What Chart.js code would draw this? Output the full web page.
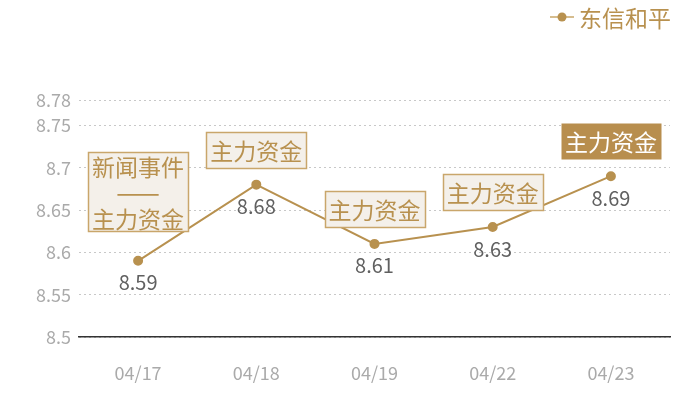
<!DOCTYPE html>
<html>
<head>
<meta charset="utf-8">
<script src="https://cdn.jsdelivr.net/npm/chart.js@4"></script>
<style>
  html, body { margin: 0; padding: 0; background: #fff; }
  #wrap { width: 700px; height: 400px; }
</style>
</head>
<body>
<div id="wrap"><canvas id="canvas"></canvas></div>
<script>
var seriesName = "东信和平";
var dates = ["04/17", "04/18", "04/19", "04/22", "04/23"];
var prices = [8.59, 8.68, 8.61, 8.63, 8.69];
var yTicks = [8.5, 8.55, 8.6, 8.65, 8.7, 8.75, 8.78];
var noteTexts = [["新闻事件", "——", "主力资金"], ["主力资金"], ["主力资金"], ["主力资金"], ["主力资金"]];
var noteFilled = [false, false, false, false, true];

var gold = "#b8914f";
var cjk = "'Noto Sans CJK SC', 'Noto Sans', sans-serif";

var notesPlugin = {
    id: "notes",
    afterDatasetsDraw: function(chart) {
        var ctx = chart.ctx;
        var meta = chart.getDatasetMeta(0);
        ctx.save();
        // value labels under points
        ctx.font = "20px " + cjk;
        ctx.fillStyle = "#606060";
        ctx.textAlign = "center";
        ctx.textBaseline = "middle";
        for (var i = 0; i < meta.data.length; i++) {
            var p = meta.data[i];
            ctx.fillText(prices[i].toFixed(2), p.x, p.y + 22);
        }
        // note boxes above points
        ctx.font = "23px " + cjk;
        for (i = 0; i < meta.data.length; i++) {
            p = meta.data[i];
            var lines = noteTexts[i];
            var w = 100, lh = 26;
            var h = lines.length > 1 ? 79 : 36;
            var gap = lines.length > 1 ? 30 : 17;
            var x0 = Math.round(p.x - w / 2) + 0.5;
            var y0 = Math.round(p.y - gap - h) + 0.5;
            if (noteFilled[i]) {
                ctx.fillStyle = "#b88e4e";
                ctx.fillRect(x0, y0, w, h);
                ctx.fillStyle = "#fff";
            } else {
                ctx.fillStyle = "#f4f0ea";
                ctx.fillRect(x0, y0, w, h);
                ctx.strokeStyle = "#c9a66b";
                ctx.lineWidth = 1.5;
                ctx.strokeRect(x0, y0, w, h);
                ctx.fillStyle = gold;
            }
            var startY = y0 + h / 2 - (lines.length - 1) * lh / 2;
            for (var j = 0; j < lines.length; j++) {
                if (lines[j] === "——") {
                    ctx.save();
                    ctx.font = "26px " + cjk;
                    ctx.fillText(lines[j], p.x, startY + j * lh);
                    ctx.restore();
                } else {
                    ctx.fillText(lines[j], p.x, startY + j * lh + 1);
                }
            }
        }
        // legend
        ctx.strokeStyle = "#d6bd8f";
        ctx.lineWidth = 2;
        ctx.beginPath();
        ctx.moveTo(550, 17);
        ctx.lineTo(574, 17);
        ctx.stroke();
        ctx.fillStyle = gold;
        ctx.beginPath();
        ctx.arc(562, 17, 4.5, 0, Math.PI * 2);
        ctx.fill();
        ctx.font = "23px " + cjk;
        ctx.textAlign = "left";
        ctx.fillText(seriesName, 579, 18);
        ctx.restore();
    }
};

new Chart("canvas", {
    type: "line",
    data: {
        labels: dates,
        datasets: [{
            label: seriesName,
            data: prices,
            borderColor: gold,
            backgroundColor: gold,
            borderWidth: 2,
            pointRadius: 4,
            pointHoverRadius: 4,
            tension: 0
        }]
    },
    options: {
        responsive: true,
        maintainAspectRatio: false,
        animation: false,
        layout: { padding: { left: 0, right: 30, top: 100, bottom: 0 } },
        plugins: {
            legend: { display: false },
            tooltip: { enabled: false }
        },
        scales: {
            x: {
                offset: true,
                grid: { display: false, drawTicks: false },
                border: { display: true, color: "#333", width: 1.5 },
                ticks: {
                    color: "#aaa",
                    padding: 25,
                    font: { family: cjk, size: 18 }
                },
                afterFit: function(s) { s.height = 63; }
            },
            y: {
                min: 8.5,
                max: 8.78,
                afterBuildTicks: function(s) {
                    s.ticks = yTicks.map(function(v) { return { value: v }; });
                },
                grid: { color: "#c8c8c8", drawTicks: false, lineWidth: 1 },
                border: { display: false, dash: [2, 3] },
                ticks: {
                    color: "#aaa",
                    padding: 8,
                    font: { family: cjk, size: 18 },
                    callback: function(v) { return String(Math.round(v * 100) / 100); }
                },
                afterFit: function(s) { s.width = 79; }
            }
        }
    },
    plugins: [notesPlugin]
});
</script>
</body>
</html>
